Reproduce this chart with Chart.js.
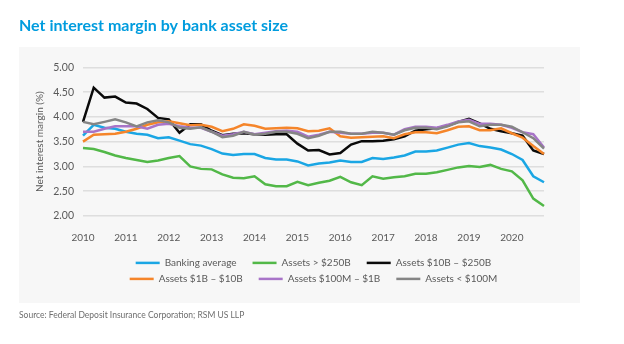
<!DOCTYPE html>
<html>
<head>
<meta charset="utf-8">
<script src="https://cdn.jsdelivr.net/npm/chart.js@4/dist/chart.umd.min.js"></script>
<style>
  html, body { margin: 0; padding: 0; background: #fff; }
  #wrap { width: 624px; height: 344px; }
</style>
</head>
<body>
<div id="wrap"><canvas id="nimChart" width="624" height="344"></canvas></div>
<script>
// Quarterly categories, 2010 Q1 - 2020 Q4
const years = ['2010', '2011', '2012', '2013', '2014', '2015', '2016', '2017', '2018', '2019', '2020'];
const quarters = years.flatMap(y => ['Q1', 'Q2', 'Q3', 'Q4'].map(q => `${y} ${q}`));

const seriesNames = [
    'Banking average',
    'Assets > $250B',
    'Assets $10B – $250B',
    'Assets $1B – $10B',
    'Assets $100M – $1B',
    'Assets < $100M'
];

// Net interest margin (%)
const bankingAvg = [3.62, 3.84, 3.78, 3.76, 3.70, 3.66, 3.64, 3.57, 3.59, 3.52,
    3.45, 3.42, 3.35, 3.26, 3.23, 3.25, 3.25, 3.17, 3.14, 3.14,
    3.10, 3.02, 3.06, 3.08, 3.12, 3.09, 3.09, 3.17, 3.15, 3.18,
    3.22, 3.30, 3.30, 3.32, 3.38, 3.44, 3.47, 3.41, 3.38, 3.34,
    3.25, 3.13, 2.80, 2.68];
const over250B = [3.37, 3.35, 3.29, 3.22, 3.17, 3.13, 3.09, 3.12, 3.17, 3.21,
    3.00, 2.95, 2.94, 2.84, 2.77, 2.76, 2.80, 2.64, 2.60, 2.60,
    2.69, 2.62, 2.67, 2.71, 2.79, 2.68, 2.62, 2.80, 2.75, 2.78,
    2.80, 2.85, 2.85, 2.88, 2.93, 2.98, 3.01, 2.99, 3.03, 2.95,
    2.90, 2.72, 2.35, 2.20];
const from10Bto250B = [3.90, 4.59, 4.39, 4.41, 4.29, 4.27, 4.16, 3.98, 3.95, 3.68,
    3.85, 3.85, 3.72, 3.63, 3.66, 3.67, 3.65, 3.64, 3.65, 3.65,
    3.46, 3.32, 3.33, 3.24, 3.27, 3.44, 3.51, 3.51, 3.52, 3.55,
    3.61, 3.72, 3.75, 3.77, 3.82, 3.90, 3.96, 3.87, 3.76, 3.71,
    3.67, 3.62, 3.32, 3.25];
const from1Bto10B = [3.50, 3.64, 3.65, 3.66, 3.70, 3.76, 3.84, 3.89, 3.91, 3.87,
    3.83, 3.84, 3.80, 3.71, 3.76, 3.85, 3.82, 3.76, 3.77, 3.78,
    3.77, 3.71, 3.72, 3.77, 3.61, 3.58, 3.59, 3.60, 3.61, 3.57,
    3.65, 3.69, 3.69, 3.67, 3.73, 3.80, 3.81, 3.73, 3.73, 3.77,
    3.67, 3.58, 3.41, 3.25];
const from100Mto1B = [3.70, 3.70, 3.76, 3.81, 3.81, 3.81, 3.76, 3.84, 3.86, 3.81,
    3.78, 3.78, 3.70, 3.62, 3.65, 3.70, 3.65, 3.68, 3.71, 3.72,
    3.70, 3.60, 3.64, 3.70, 3.68, 3.66, 3.66, 3.68, 3.68, 3.64,
    3.75, 3.80, 3.80, 3.78, 3.84, 3.91, 3.94, 3.86, 3.86, 3.84,
    3.78, 3.69, 3.65, 3.38];
const under100M = [3.90, 3.85, 3.90, 3.95, 3.89, 3.81, 3.89, 3.93, 3.89, 3.78,
    3.76, 3.79, 3.70, 3.59, 3.62, 3.70, 3.64, 3.66, 3.70, 3.70,
    3.66, 3.57, 3.62, 3.70, 3.70, 3.66, 3.66, 3.70, 3.68, 3.64,
    3.73, 3.78, 3.78, 3.75, 3.81, 3.89, 3.91, 3.81, 3.84, 3.84,
    3.80, 3.69, 3.57, 3.36];

const seriesValues = [bankingAvg, over250B, from10Bto250B, from1Bto10B, from100Mto1B, under100M];
const seriesColors = ['#1aa6e4', '#52b848', '#0a0a0a', '#f5852a', '#a874c8', '#858585'];

const FONT = 'Lato, "Open Sans", sans-serif';
const TEXT_GREY = '#595959';

// light grey panel behind the plot and legend
const panelBg = {
    id: 'panelBg',
    beforeDraw(chart) {
        const ctx = chart.ctx;
        ctx.save();
        ctx.fillStyle = '#f7f7f7';
        ctx.fillRect(19, 47, 561, 256);
        ctx.restore();
    }
};

const ctx = document.getElementById('nimChart').getContext('2d');
new Chart(ctx, {
    type: 'line',
    data: {
        labels: quarters,
        datasets: seriesNames.map((name, i) => ({
            label: name,
            data: seriesValues[i],
            borderColor: seriesColors[i],
            backgroundColor: seriesColors[i],
            borderWidth: 2.5,
            pointRadius: 0,
            tension: 0,
            fill: false,
            order: seriesNames.length - i
        }))
    },
    options: {
        responsive: false,
        animation: false,
        devicePixelRatio: 1,
        layout: {
            padding: { left: 19, right: 80, top: 0, bottom: 0 }
        },
        plugins: {
            tooltip: { enabled: false },
            title: {
                display: true,
                text: 'Net interest margin by bank asset size',
                align: 'start',
                color: '#009cde',
                font: { family: FONT, size: 16, weight: 'bold' },
                padding: { top: 15.9, bottom: 32.3 }
            },
            subtitle: {
                display: true,
                position: 'bottom',
                align: 'start',
                text: 'Source: Federal Deposit Insurance Corporation; RSM US LLP',
                color: '#6e6e6e',
                font: { family: FONT, size: 8.5 },
                padding: { top: 15.9, bottom: 24 }
            },
            legend: {
                position: 'bottom',
                fullSize: false,
                labels: {
                    boxWidth: 24,
                    boxHeight: 2.5,
                    padding: 6,
                    color: TEXT_GREY,
                    font: { family: FONT, size: 10 },
                    sort: (a, b) => a.datasetIndex - b.datasetIndex,
                    generateLabels: chart =>
                        Chart.defaults.plugins.legend.labels.generateLabels(chart).map(item => ({
                            ...item,
                            text: item.datasetIndex % 3 < 2 ? item.text + '\u2002\u2002' : item.text,
                            fillStyle: item.strokeStyle,
                            lineWidth: 0
                        }))
                }
            }
        },
        scales: {
            x: {
                grid: { display: false },
                border: { display: false },
                ticks: {
                    autoSkip: false,
                    maxRotation: 0,
                    padding: 5,
                    color: TEXT_GREY,
                    font: { family: FONT, size: 10, lineHeight: 1.8 },
                    callback: (value, index) => index % 4 === 0 ? quarters[index].slice(0, 4) : ''
                }
            },
            y: {
                min: 2,
                max: 5,
                afterFit: scale => { scale.width = 64; },
                grid: { color: '#dedede', lineWidth: 1.5, drawTicks: false },
                border: { display: false },
                ticks: {
                    stepSize: 0.5,
                    padding: 9,
                    color: TEXT_GREY,
                    font: { family: FONT, size: 10.5 },
                    callback: value => value.toFixed(2)
                },
                title: {
                    display: true,
                    text: 'Net interest margin (%)',
                    color: TEXT_GREY,
                    font: { family: FONT, size: 10 },
                    padding: { top: 15, bottom: 0 }
                }
            }
        }
    },
    plugins: [panelBg]
});
</script>
</body>
</html>
